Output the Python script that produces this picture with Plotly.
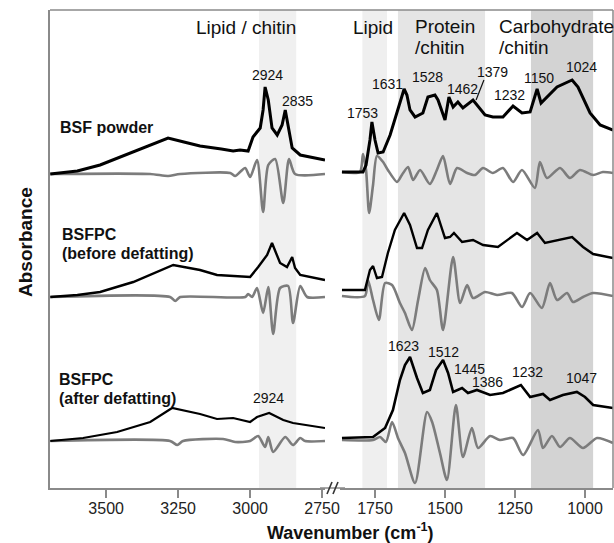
import plotly.graph_objects as go

# ---------------- data (wavenumber cm-1, absorbance in arbitrary stacked units) ----------------
# High-wavenumber region (3700-2740 cm-1)
powder_abs_hi = [(3694,314),(3600,317),(3521,323),(3406,336),(3285,350),(3230,346),(3174,342),(3100,339),
                 (3059,337),(3035,338),(3007,337),(2990,351),(2965,360),(2955,378),(2948,401),(2937,388),
                 (2924,360),(2906,353),(2889,363),(2878,378),(2868,363),(2854,340),(2826,333),(2740,328)]
powder_d2_hi = [(3694,314),(3347,314),(3285,312),(3243,314),(3069,315),(3052,312),(3035,316),(3017,320),
                (3000,311),(2976,328),(2955,276),(2937,323),(2913,329),(2885,285),(2865,329),(2844,314),(2740,314)]
before_abs_hi = [(3694,191),(3600,193),(3521,196),(3406,206),(3267,223),(3174,218),(3115,213),(3000,211),
                 (2972,221),(2941,233),(2924,245),(2906,233),(2896,225),(2872,221),(2854,231),(2844,220),
                 (2826,213),(2740,208)]
before_d2_hi = [(3694,191),(3278,191),(3260,187),(3243,191),(3017,191),(3007,194),(2993,191),(2976,200),
                (2955,175),(2937,201),(2920,154),(2896,200),(2868,202),(2851,165),(2826,202),(2802,191),(2740,191)]
after_abs_hi = [(3694,47),(3580,50),(3462,56),(3347,66),(3271,80),(3174,74),(3115,69),(3059,70),(3000,66),
                (2976,71),(2934,75),(2913,72),(2885,68),(2851,65),(2740,60)]
after_d2_hi = [(3694,47),(3278,47),(3253,43),(3233,47),(3094,49),(3052,46),(3000,47),(2972,52),(2948,41),
               (2937,51),(2920,36),(2878,51),(2851,43),(2826,50),(2809,47),(2740,47)]

# Fingerprint region (1875-900 cm-1)
powder_abs_lo = [(1868,316),(1793,316),(1782,323),(1768,348),(1761,366),(1750,348),(1739,335),(1721,336),
                 (1696,353),(1671,375),(1646,399),(1636,393),(1625,378),(1607,371),(1579,375),(1561,391),
                 (1536,393),(1525,388),(1500,368),(1486,391),(1471,381),(1454,386),(1436,380),(1400,388),
                 (1357,373),(1329,371),(1293,371),(1257,382),(1225,375),(1196,376),(1171,399),(1157,385),
                 (1136,391),(1100,401),(1046,408),(1025,401),(982,375),(946,363),(900,358)]
powder_d2_lo = [(1868,316),(1804,316),(1793,334),(1782,318),(1771,275),(1757,303),(1743,332),(1721,326),
                (1704,318),(1671,306),(1654,313),(1632,321),(1614,308),(1589,318),(1554,304),(1529,318),
                (1507,332),(1482,304),(1457,320),(1421,315),(1393,313),(1364,320),(1329,315),(1293,320),
                (1257,306),(1225,318),(1179,300),(1161,326),(1136,310),(1089,320),(1054,310),(1018,318),
                (971,313),(936,316),(900,315)]
before_abs_lo = [(1868,198),(1786,198),(1768,218),(1757,222),(1743,210),(1725,211),(1704,235),(1679,258),
                 (1646,275),(1625,263),(1600,240),(1582,240),(1561,258),(1529,275),(1500,250),(1482,251),
                 (1468,255),(1439,246),(1400,248),(1364,243),(1311,241),(1243,255),(1207,248),(1171,255),
                 (1143,245),(1089,248),(1046,251),(1007,241),(971,234),(900,230)]
before_d2_lo = [(1868,192),(1786,192),(1775,208),(1757,188),(1736,168),(1714,205),(1689,203),(1661,185),
                (1643,175),(1618,158),(1596,188),(1571,220),(1554,208),(1529,198),(1507,158),(1471,231),
                (1446,185),(1421,203),(1400,190),(1357,196),(1314,193),(1261,195),(1225,181),(1196,195),
                (1154,180),(1125,205),(1100,188),(1064,195),(1043,186),(1007,191),(971,195),(900,192)]
after_abs_lo = [(1868,50),(1757,51),(1714,60),(1686,78),(1661,108),(1643,123),(1625,131),(1600,110),
                (1579,95),(1554,98),(1532,118),(1507,128),(1489,115),(1471,96),(1439,100),(1418,95),
                (1386,98),(1339,93),(1293,95),(1229,103),(1196,91),(1150,94),(1125,88),(1079,93),
                (1029,96),(1000,91),(971,83),(900,80)]
after_d2_lo = [(1868,48),(1757,48),(1732,51),(1711,46),(1689,66),(1668,50),(1643,35),(1607,5),(1564,76),
               (1546,66),(1518,35),(1493,8),(1461,83),(1436,31),(1404,60),(1382,40),(1339,52),(1304,48),
               (1257,50),(1221,33),(1168,58),(1150,40),(1118,52),(1089,41),(1054,50),(1007,40),(957,50),(900,45)]

# shaded assignment bands (cm-1)
band_hi = [(2969, 2840, "#f0f0f0")]
band_lo = [(1795, 1707, "#efefef"), (1668, 1357, "#e5e5e5"), (1193, 971, "#d3d3d3")]

# peak labels (wavenumber position, height, text)
peaks_hi = [(2941, 413, "2924"), (2837, 387, "2835"), (2937, 90, "2924")]
peaks_lo = [(1793, 375, "1753"), (1707, 404, "1631"), (1561, 411, "1528"), (1439, 399, "1462"),
            (1329, 416, "1379"), (1268, 393, "1232"), (1164, 410, "1150"), (1011, 421, "1024"),
            (1650, 142, "1623"), (1507, 136, "1512"), (1411, 119, "1445"), (1350, 106, "1386"),
            (1207, 116, "1232"), (1011, 110, "1047")]

ticks_hi = [3500, 3250, 3000, 2750]
ticks_lo = [1750, 1500, 1250, 1000]

FONT = "Arial, Liberation Sans, sans-serif"
BLACK = "#000000"
GRAY = "#7c7c7c"

fig = go.Figure()

def add(series, axis, color, width, shape="linear"):
    xs = [p[0] for p in series]
    ys = [p[1] for p in series]
    line = dict(color=color, width=width, shape=shape)
    if shape == "spline":
        line["smoothing"] = 0.7
    fig.add_trace(go.Scatter(x=xs, y=ys, mode="lines", xaxis=axis, yaxis="y",
                             line=line, showlegend=False, hoverinfo="skip"))

for s in (powder_d2_hi, before_d2_hi, after_d2_hi):
    add(s, "x", GRAY, 2.6, "spline")
for s in (powder_d2_lo, before_d2_lo, after_d2_lo):
    add(s, "x2", GRAY, 2.6, "spline")
add(powder_abs_hi, "x", BLACK, 3.0)
add(before_abs_hi, "x", BLACK, 2.4)
add(after_abs_hi, "x", BLACK, 2.2)
add(powder_abs_lo, "x2", BLACK, 3.0)
add(before_abs_lo, "x2", BLACK, 2.4)
add(after_abs_lo, "x2", BLACK, 2.6)

shapes = []
for x0, x1, c in band_hi:
    shapes.append(dict(type="rect", xref="x", yref="paper", x0=x0, x1=x1, y0=0, y1=1,
                       fillcolor=c, line=dict(width=0), layer="below"))
for x0, x1, c in band_lo:
    shapes.append(dict(type="rect", xref="x2", yref="paper", x0=x0, x1=x1, y0=0, y1=1,
                       fillcolor=c, line=dict(width=0), layer="below"))

AX = "#8a8a8a"
W, H = 563.0, 478.0
# frame: top and right border, axis across the break, break marks
shapes.append(dict(type="line", xref="paper", yref="paper", x0=0, x1=1, y0=1, y1=1,
                   line=dict(color=AX, width=1.5)))
shapes.append(dict(type="line", xref="paper", yref="paper", x0=1, x1=1, y0=0, y1=1,
                   line=dict(color=AX, width=1.5)))
shapes.append(dict(type="line", xref="paper", yref="paper", x0=270 / W, x1=295 / W, y0=0, y1=0,
                   line=dict(color=AX, width=1.5)))
for dx in (0, 6):
    shapes.append(dict(type="line", xref="paper", yref="paper",
                       x0=(277 + dx) / W, x1=(282 + dx) / W, y0=-6 / H, y1=6 / H,
                       line=dict(color="#333", width=1.6)))
# leader line for 1379
shapes.append(dict(type="line", xref="x2", yref="y", x0=1361, x1=1389, y0=408, y1=388,
                   line=dict(color="#111", width=1.2)))

ann = []
for x, y, t in peaks_hi:
    ann.append(dict(x=x, y=y, xref="x", yref="y", text=t, showarrow=False,
                    font=dict(family=FONT, size=14, color="#111")))
for x, y, t in peaks_lo:
    ann.append(dict(x=x, y=y, xref="x2", yref="y", text=t, showarrow=False,
                    font=dict(family=FONT, size=14, color="#111")))

def txt(x, y, t, xref, size=19, bold=False, xanchor="center"):
    ann.append(dict(x=x, y=y, xref=xref, yref="y", text=("<b>%s</b>" % t) if bold else t,
                    showarrow=False, xanchor=xanchor,
                    font=dict(family=FONT, size=size, color="#111")))

txt(3014, 461, "Lipid / chitin", "x")
txt(1757, 461, "Lipid", "x2")
txt(1616, 462, "Protein", "x2", xanchor="left")
txt(1616, 441, "/chitin", "x2", xanchor="left")
txt(1313, 462, "Carbohydrate", "x2", xanchor="left")
txt(1313, 441, "/chitin", "x2", xanchor="left")

txt(3667, 361, "BSF powder", "x", size=16, bold=True, xanchor="left")
txt(3660, 254, "BSFPC", "x", size=16, bold=True, xanchor="left")
txt(3660, 235, "(before defatting)", "x", size=16, bold=True, xanchor="left")
txt(3670, 109, "BSFPC", "x", size=16, bold=True, xanchor="left")
txt(3670, 90, "(after defatting)", "x", size=16, bold=True, xanchor="left")

ann.append(dict(x=-25 / W, y=(488 - 242) / H, xref="paper", yref="paper", text="<b>Absorbance</b>",
                textangle=-90, showarrow=False, xanchor="center", yanchor="middle",
                font=dict(family=FONT, size=19, color="#111")))
ann.append(dict(x=(350 - 50) / W, y=-(531 - 488) / H, xref="paper", yref="paper",
                text="<b>Wavenumber (cm<sup>-1</sup>)</b>", showarrow=False,
                xanchor="center", yanchor="middle",
                font=dict(family=FONT, size=18, color="#111")))

axis_common = dict(showgrid=False, zeroline=False, showline=True, linecolor=AX, linewidth=1.5,
                   ticks="outside", ticklen=8, tickwidth=1.5, tickcolor=AX, automargin=False,
                   ticklabelstandoff=-3,
                   tickfont=dict(family=FONT, size=16, color="#222"))

fig.update_layout(
    width=614, height=543, autosize=False,
    margin=dict(l=50, r=1, t=10, b=55, pad=0, autoexpand=False),
    paper_bgcolor="white", plot_bgcolor="white",
    showlegend=False,
    xaxis=dict(domain=[0, 275 / W], range=[3695, 2740], tickvals=ticks_hi, anchor="y", **axis_common),
    xaxis2=dict(domain=[290 / W, 1], range=[1875, 900], tickvals=ticks_lo, anchor="y", **axis_common),
    yaxis=dict(range=[0, 478], showgrid=False, zeroline=False, showline=True, linecolor=AX,
               linewidth=1.5, showticklabels=False, ticks="", automargin=False),
    shapes=shapes, annotations=ann,
)

fig.write_html("out.html")
